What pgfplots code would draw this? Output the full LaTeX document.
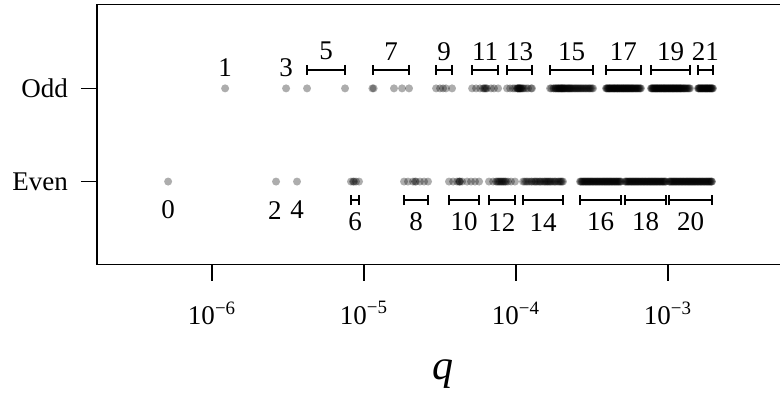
\documentclass[border=0pt]{standalone}
\usepackage{fontspec}
\setmainfont{Liberation Serif}
\usepackage{pgfplots}
\pgfplotsset{compat=1.18}

\newcommand{\lbl}{\fontsize{13.5}{15}\selectfont}
\pgfplotsset{dot/.style={only marks, mark=*, mark size=2pt,
  mark options={fill=black, fill opacity=0.32, draw opacity=0}}}

\begin{document}
\begin{tikzpicture}
\begin{axis}[
  scale only axis,
  width=346pt, height=130pt,
  xmin=-6.757, xmax=-2.204,
  ymin=-0.89, ymax=1.90,
  axis line style={line width=0.75pt},
  tick align=outside,
  major tick length=8pt,
  every tick/.style={black, line width=0.75pt},
  xtick pos=bottom, ytick pos=left,
  xtick={-6,-5,-4,-3},
  xticklabels={10\textsuperscript{−6},10\textsuperscript{−5},10\textsuperscript{−4},10\textsuperscript{−3}},
  ytick={0,1},
  yticklabels={Even,Odd},
  tick label style={font=\lbl},
  xticklabel style={yshift=-7pt},
  yticklabel style={xshift=-3pt},
  xlabel={\fontsize{21}{24}\selectfont\itshape q},
  xlabel style={at={(axis description cs:0.5,0)}, anchor=base, yshift=-57.25pt},
  clip=false,
]
% odd group sizes (x = log10 q)
\addplot[dot] coordinates {
(-5.914,1) (-5.513,1)
(-5.375,1) (-5.125,1)
(-4.945,1) (-4.937,1) (-4.803,1) (-4.750,1) (-4.704,1)
(-4.526,1) (-4.500,1) (-4.480,1) (-4.461,1) (-4.421,1)
(-4.289,1) (-4.263,1) (-4.237,1) (-4.217,1) (-4.204,1) (-4.191,1) (-4.164,1) (-4.145,1) (-4.118,1)
(-4.210,1) (-4.198,1)
(-4.059,1) (-4.039,1) (-4.020,1) (-4.007,1) (-3.993,1) (-3.987,1) (-3.980,1) (-3.974,1)
(-3.967,1) (-3.961,1) (-3.947,1) (-3.934,1) (-3.921,1) (-3.901,1) (-3.895,1)
(-3.990,1) (-3.984,1) (-3.977,1) (-3.970,1) (-3.955,1)
(-3.776,1) (-3.768,1) (-3.755,1) (-3.742,1) (-3.735,1) (-3.728,1) (-3.720,1) (-3.712,1)
(-3.705,1) (-3.698,1) (-3.690,1) (-3.683,1) (-3.675,1) (-3.664,1) (-3.655,1) (-3.646,1)
(-3.637,1) (-3.625,1) (-3.612,1) (-3.600,1) (-3.588,1) (-3.575,1) (-3.562,1) (-3.548,1)
(-3.535,1) (-3.520,1) (-3.508,1) (-3.493,1)
(-3.750,1) (-3.738,1) (-3.724,1) (-3.716,1) (-3.708,1) (-3.701,1) (-3.694,1) (-3.687,1)
(-3.679,1) (-3.670,1) (-3.660,1) (-3.650,1) (-3.641,1) (-3.631,1) (-3.618,1) (-3.606,1)
(-3.594,1) (-3.581,1) (-3.568,1) (-3.555,1) (-3.541,1) (-3.527,1) (-3.514,1) (-3.500,1)
(-3.408,1) (-3.400,1) (-3.392,1) (-3.385,1) (-3.378,1) (-3.370,1) (-3.362,1) (-3.355,1)
(-3.348,1) (-3.340,1) (-3.333,1) (-3.325,1) (-3.318,1) (-3.310,1) (-3.302,1) (-3.295,1)
(-3.288,1) (-3.280,1) (-3.272,1) (-3.265,1) (-3.257,1) (-3.249,1) (-3.241,1) (-3.233,1)
(-3.225,1) (-3.216,1) (-3.207,1) (-3.198,1) (-3.188,1) (-3.178,1)
(-3.404,1) (-3.396,1) (-3.388,1) (-3.381,1) (-3.374,1) (-3.366,1) (-3.358,1) (-3.351,1)
(-3.344,1) (-3.336,1) (-3.329,1) (-3.321,1) (-3.314,1) (-3.306,1) (-3.298,1) (-3.291,1)
(-3.284,1) (-3.276,1) (-3.268,1) (-3.261,1) (-3.253,1) (-3.245,1) (-3.237,1) (-3.229,1)
(-3.220,1) (-3.211,1) (-3.202,1) (-3.193,1) (-3.183,1)
(-3.112,1) (-3.104,1) (-3.097,1) (-3.090,1) (-3.083,1) (-3.076,1) (-3.069,1) (-3.062,1)
(-3.055,1) (-3.048,1) (-3.041,1) (-3.034,1) (-3.027,1) (-3.020,1) (-3.013,1) (-3.006,1)
(-2.999,1) (-2.992,1) (-2.985,1) (-2.978,1) (-2.971,1) (-2.964,1) (-2.957,1) (-2.950,1)
(-2.943,1) (-2.936,1) (-2.929,1) (-2.922,1) (-2.915,1) (-2.907,1) (-2.898,1) (-2.889,1)
(-2.879,1) (-2.867,1) (-2.855,1)
(-3.108,1) (-3.100,1) (-3.093,1) (-3.086,1) (-3.079,1) (-3.072,1) (-3.065,1) (-3.058,1)
(-3.051,1) (-3.044,1) (-3.037,1) (-3.030,1) (-3.023,1) (-3.016,1) (-3.009,1) (-3.002,1)
(-2.995,1) (-2.988,1) (-2.981,1) (-2.974,1) (-2.967,1) (-2.960,1) (-2.953,1) (-2.946,1)
(-2.939,1) (-2.932,1) (-2.925,1) (-2.918,1) (-2.911,1) (-2.902,1) (-2.893,1) (-2.884,1)
(-2.873,1) (-2.861,1)
(-2.803,1) (-2.796,1) (-2.789,1) (-2.782,1) (-2.775,1) (-2.768,1) (-2.761,1) (-2.754,1)
(-2.747,1) (-2.740,1) (-2.733,1) (-2.726,1) (-2.719,1) (-2.712,1) (-2.704,1)
(-2.799,1) (-2.792,1) (-2.785,1) (-2.778,1) (-2.771,1) (-2.764,1) (-2.757,1) (-2.750,1)
(-2.743,1) (-2.736,1) (-2.729,1) (-2.722,1) (-2.715,1) (-2.708,1)
};
% even group sizes (x = log10 q)
\addplot[dot] coordinates {
(-6.289,0) (-5.579,0) (-5.441,0)
(-5.086,0) (-5.072,0) (-5.066,0) (-5.053,0) (-5.033,0)
(-4.737,0) (-4.711,0) (-4.678,0) (-4.664,0) (-4.658,0) (-4.632,0) (-4.605,0) (-4.579,0)
(-4.441,0) (-4.414,0) (-4.388,0) (-4.375,0) (-4.368,0) (-4.355,0) (-4.322,0) (-4.296,0) (-4.270,0) (-4.243,0)
(-4.372,0)
(-4.178,0) (-4.151,0) (-4.132,0) (-4.118,0) (-4.105,0) (-4.092,0) (-4.079,0) (-4.066,0)
(-4.053,0) (-4.033,0) (-4.007,0)
(-4.125,0) (-4.111,0) (-4.098,0) (-4.085,0) (-4.072,0)
(-3.954,0) (-3.934,0) (-3.925,0) (-3.914,0) (-3.901,0) (-3.882,0) (-3.868,0) (-3.860,0)
(-3.849,0) (-3.836,0) (-3.816,0) (-3.803,0) (-3.790,0) (-3.783,0) (-3.770,0) (-3.750,0)
(-3.737,0) (-3.725,0) (-3.717,0) (-3.704,0) (-3.691,0)
(-3.944,0) (-3.895,0) (-3.875,0) (-3.842,0) (-3.826,0) (-3.810,0) (-3.796,0) (-3.776,0)
(-3.760,0) (-3.744,0) (-3.710,0) (-3.698,0)
(-3.579,0) (-3.569,0) (-3.559,0) (-3.549,0) (-3.539,0) (-3.529,0) (-3.519,0) (-3.509,0)
(-3.499,0) (-3.489,0) (-3.479,0) (-3.469,0) (-3.459,0) (-3.449,0) (-3.439,0) (-3.429,0)
(-3.419,0) (-3.409,0) (-3.399,0) (-3.389,0) (-3.379,0) (-3.369,0) (-3.359,0) (-3.349,0)
(-3.339,0) (-3.329,0) (-3.319,0) (-3.309,0)
(-3.574,0) (-3.564,0) (-3.554,0) (-3.544,0) (-3.534,0) (-3.524,0) (-3.514,0) (-3.504,0)
(-3.494,0) (-3.484,0) (-3.474,0) (-3.464,0) (-3.454,0) (-3.444,0) (-3.434,0) (-3.424,0)
(-3.414,0) (-3.404,0) (-3.394,0) (-3.384,0) (-3.374,0) (-3.364,0) (-3.354,0) (-3.344,0)
(-3.334,0) (-3.324,0) (-3.314,0)
(-3.283,0) (-3.273,0) (-3.263,0) (-3.253,0) (-3.243,0) (-3.233,0) (-3.223,0) (-3.213,0)
(-3.203,0) (-3.193,0) (-3.183,0) (-3.173,0) (-3.163,0) (-3.153,0) (-3.143,0) (-3.133,0)
(-3.123,0) (-3.113,0) (-3.103,0) (-3.093,0) (-3.083,0) (-3.073,0) (-3.063,0) (-3.053,0)
(-3.043,0) (-3.033,0) (-3.023,0) (-3.013,0)
(-3.278,0) (-3.268,0) (-3.258,0) (-3.248,0) (-3.238,0) (-3.228,0) (-3.218,0) (-3.208,0)
(-3.198,0) (-3.188,0) (-3.178,0) (-3.168,0) (-3.158,0) (-3.148,0) (-3.138,0) (-3.128,0)
(-3.118,0) (-3.108,0) (-3.098,0) (-3.088,0) (-3.078,0) (-3.068,0) (-3.058,0) (-3.048,0)
(-3.038,0) (-3.028,0) (-3.018,0)
(-2.993,0) (-2.983,0) (-2.973,0) (-2.963,0) (-2.953,0) (-2.943,0) (-2.933,0) (-2.923,0)
(-2.913,0) (-2.903,0) (-2.893,0) (-2.883,0) (-2.873,0) (-2.863,0) (-2.853,0) (-2.843,0)
(-2.833,0) (-2.823,0) (-2.813,0) (-2.803,0) (-2.793,0) (-2.783,0) (-2.773,0) (-2.763,0)
(-2.753,0) (-2.743,0) (-2.733,0) (-2.723,0) (-2.713,0) (-2.711,0)
(-2.988,0) (-2.978,0) (-2.968,0) (-2.958,0) (-2.948,0) (-2.938,0) (-2.928,0) (-2.918,0)
(-2.908,0) (-2.898,0) (-2.888,0) (-2.878,0) (-2.868,0) (-2.858,0) (-2.848,0) (-2.838,0)
(-2.828,0) (-2.818,0) (-2.808,0) (-2.798,0) (-2.788,0) (-2.778,0) (-2.768,0) (-2.758,0)
(-2.748,0) (-2.738,0) (-2.728,0) (-2.718,0)
};
% range brackets: centre, half width
\addplot[draw=none, mark=none,
  error bars/.cd, x dir=both, x explicit,
  error bar style={black, line width=0.75pt},
  error mark options={black, line width=0.75pt, mark size=2.5pt, rotate=90}]
  table[x=c, y=y, x error=hw] {
c        y       hw
-5.2500  1.199   0.1250
-4.8225  1.199   0.1185
-4.4735  1.199   0.0525
-4.2035  1.199   0.0855
-3.9770  1.199   0.0820
-3.6345  1.199   0.1415
-3.2930  1.199   0.1150
-2.9835  1.199   0.1285
-2.7535  1.199   0.0495
-5.0595  -0.199  0.0265
-4.6580  -0.199  0.0790
-4.3420  -0.199  0.0990
-4.0925  -0.199  0.0855
-3.8225  -0.199  0.1315
-3.4440  -0.199  0.1350
-3.1480  -0.199  0.1350
-2.8520  -0.199  0.1410
};
% size labels
\addplot[only marks, mark=none, point meta=explicit symbolic,
  nodes near coords,
  every node near coord/.style={anchor=center, font=\lbl, text=black}]
  table[x=x, y=y, meta=n] {
x        y       n
-5.914   1.226   1
-5.513   1.226   3
-5.2500  1.398   5
-4.8225  1.398   7
-4.4735  1.398   9
-4.2035  1.398   11
-3.9770  1.398   13
-3.6345  1.398   15
-3.2930  1.398   17
-2.9835  1.398   19
-2.7535  1.398   21
-6.289   -0.306  0
-5.586   -0.306  2
-5.441   -0.306  4
-5.0595  -0.435  6
-4.6580  -0.435  8
-4.3420  -0.435  10
-4.0925  -0.435  12
-3.8225  -0.435  14
-3.4440  -0.435  16
-3.1480  -0.435  18
-2.8520  -0.435  20
};
\end{axis}
\pgfresetboundingbox
\useasboundingbox ([shift={(-48.5pt,-63.75pt)}]current axis.south west)
  rectangle ([shift={(341.5pt,2.25pt)}]current axis.north west);
\end{tikzpicture}
\end{document}
